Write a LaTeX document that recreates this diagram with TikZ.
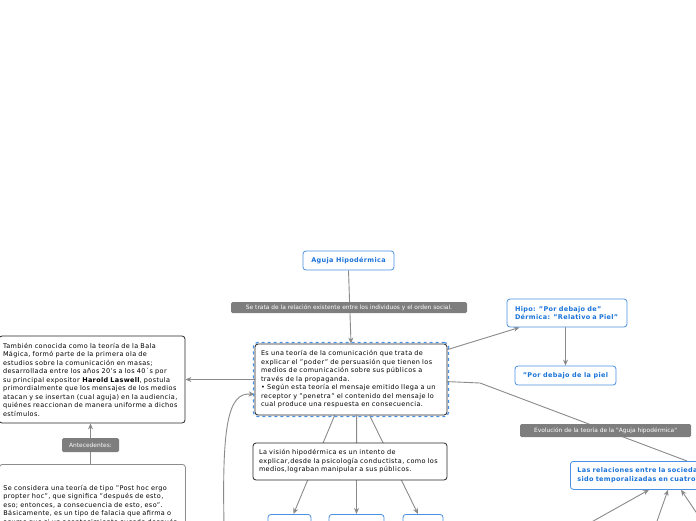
\documentclass[tikz,border=0pt]{standalone}
\usepackage{fontspec}
\setmainfont{DejaVu Sans}[LetterSpace=6, BoldFeatures={LetterSpace=5}]
\newfontfamily\lblfont{DejaVu Sans}
\usetikzlibrary{arrows.meta,calc,backgrounds}
\definecolor{conn}{HTML}{8A8A8A}
\definecolor{lblgray}{HTML}{7E7E7E}
\definecolor{bluetxt}{HTML}{1A73D9}
\definecolor{blueline}{HTML}{4A90E2}
\tikzset{
  base/.style={rounded corners=3pt, fill=white, line width=0.8pt, inner ysep=0pt},
  blackbox/.style={base, draw=black!85, font=\fontsize{6.5}{8.5}\selectfont, align=left},
  bluebox/.style={base, draw=blueline, text=bluetxt, font=\fontsize{6.5}{8.5}\selectfont\bfseries},
  lbl/.style={rounded corners=1.5pt, fill=lblgray, text=white, font=\lblfont\fontsize{5.9}{7}\selectfont, inner xsep=3pt, inner ysep=0pt},
  conline/.style={draw=conn, line width=0.9pt},
  arr/.style={conline, -{Stealth[length=6pt,width=5pt]}},
}
\begin{document}
\begin{tikzpicture}[x=1pt,y=-1pt]
\useasboundingbox (0,0) rectangle (696,520);
\clip (0,0) rectangle (696,520);
% nodes
\node[bluebox, minimum width=91pt, minimum height=19pt] (aguja) at (348.5,260.5) {Aguja Hipodérmica};
\node[blackbox, minimum width=192pt, minimum height=71pt, text width=180pt, inner xsep=6pt] (main) at (351,379.5) {Es una teoría de la comunicación que trata de\\explicar el "poder" de persuasión que tienen los\\medios de comunicación sobre sus públicos a\\través de la propaganda.\\• Según esta teoría el mensaje emitido llega a un\\receptor y "penetra" el contenido del mensaje lo\\cual produce una respuesta en consecuencia.};
\node[rounded corners=4pt, draw=blueline, dashed, line width=1.2pt, minimum width=195pt, minimum height=74pt] (mainsel) at (351,379.5) {};
\node[blackbox, minimum width=186pt, minimum height=87pt, text width=178pt, inner xsep=4pt] (left) at (92,379.5) {También conocida como la teoría de la Bala\\Mágica, formó parte de la primera ola de\\estudios sobre la comunicación en masas;\\desarrollada entre los años 20's a los 40´s por\\su principal expositor \textbf{Harold Laswell}, postula\\primordialmente que los mensajes de los medios\\atacan y se insertan (cual aguja) en la audiencia,\\quiénes reaccionan de manera uniforme a dichos\\estímulos.};
\node[blackbox, draw=black!45, anchor=north west, minimum width=186pt, minimum height=90pt, text width=178pt, inner xsep=4pt, inner ysep=6pt] (lower) at (-1,464) {Se considera una teoría de tipo "Post hoc ergo\\propter hoc", que significa "después de esto,\\eso; entonces, a consecuencia de esto, eso".\\Básicamente, es un tipo de falacia que afirma o\\asume que si un acontecimiento sucede después\\de otro, el segundo es consecuencia del primero,\\ };
\node[lbl, minimum width=57pt, minimum height=14pt] (antec) at (90.5,445) {Antecedentes:};
\node[blackbox, minimum width=194pt, minimum height=37pt, text width=182pt, inner xsep=6pt] (vision) at (350,461.5) {La visión hipodérmica es un intento de\\explicar,desde la psicología conductista, como los\\medios,lograban manipular a sus públicos.};
\node[base, draw=blueline, minimum width=43pt, minimum height=30pt, anchor=north] (b1) at (289.5,514) {};
\node[base, draw=blueline, minimum width=55pt, minimum height=30pt, anchor=north] (b2) at (356.5,514) {};
\node[base, draw=blueline, minimum width=40pt, minimum height=30pt, anchor=north] (b3) at (423,514) {};
\node[bluebox, minimum width=120pt, minimum height=28pt, text width=104pt, inner xsep=8pt, align=left] (hipo) at (567,313) {Hipo: "Por debajo de"\\Dérmica: "Relativo a Piel"};
\node[bluebox, minimum width=101pt, minimum height=19pt] (piel) at (565.5,375.5) {"Por debajo de la piel};
\node[bluebox, anchor=north west, minimum width=200pt, minimum height=28pt, text width=186pt, inner xsep=7pt, align=left] (rel) at (570,461) {Las relaciones entre la sociedad\\sido temporalizadas en cuatro};
\node[lbl, minimum width=171pt, minimum height=13pt] (evol) at (605.5,430.5) {Evolución de la teoría de la "Aguja hipodérmica"};
\node[lbl, minimum width=236pt, minimum height=11pt] (lbl1) at (349,307.5) {Se trata de la relación existente entre los individuos y el orden social.};
% free-end coordinates
\coordinate (c1) at (224,524);
\coordinate (c2) at (588,524);
\coordinate (c3) at (656,524);
\coordinate (c4) at (700,518);
\coordinate (bend) at (480,383);
\begin{scope}[on background layer]
\draw[arr] (aguja.south) -- (main.north);
\draw[arr] (main.west) -- (left.east);
\draw[arr] (lower.north -| antec.center) -- (left.south -| antec.center);
\draw[arr] (c1) .. controls (222,425) and (228,392) .. ($(main.south west)+(0,-21)$);
\draw[arr] ($(main.south west)+(80,0)$) -- ($(b1.north)+(4,0)$);
\draw[arr] ($(main.south west)+(102,0)$) -- (b2.north);
\draw[arr] ($(main.south west)+(115,0)$) -- ($(b3.north)+(-5,0)$);
\draw[arr] ($(main.north east)+(0,6)$) -- ($(hipo.south west)+(13,0)$);
\draw[arr] (hipo.south -| piel.center) -- (piel.north);
\draw[conline] ($(main.north east)+(0,38)$) -- (bend) -- ($(rel.north west)+(117,0)$);
\draw[arr] (c2) -- ($(rel.south west)+(79,0)$);
\draw[arr] (c3) -- ($(rel.south west)+(98,0)$);
\draw[arr] (c4) -- ($(rel.south west)+(111,0)$);
\end{scope}
\end{tikzpicture}
\end{document}
